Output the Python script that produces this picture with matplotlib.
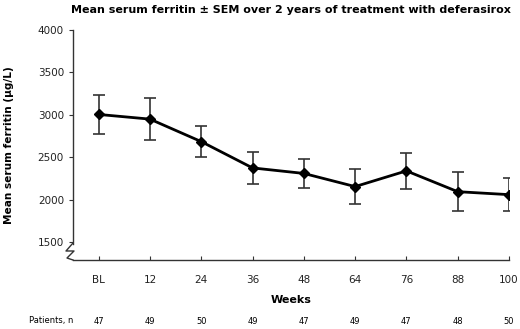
import matplotlib.pyplot as plt
import matplotlib.transforms as mtransforms
import numpy as np

# data
weeks = ["BL", "12", "24", "36", "48", "64", "76", "88", "100"]
ferritin = [3005, 2950, 2685, 2375, 2310, 2155, 2340, 2095, 2060]
sem = [235, 250, 185, 185, 175, 205, 215, 230, 195]
patients = [47, 49, 50, 49, 47, 49, 47, 48, 50]
yticks = [1500, 2000, 2500, 3000, 3500, 4000]

plt.rcParams["font.family"] = ["DejaVu Sans"]

fig = plt.figure(figsize=(5.2, 3.29), dpi=100)
ax = fig.add_axes([73 / 520, 1 - 260 / 329, 436 / 520, 230 / 329])

x = np.arange(len(weeks))
ax.errorbar(x, ferritin, yerr=sem, color="black", lw=2, marker="D", ms=5,
            ecolor="#333333", elinewidth=1.2, capsize=4, capthick=1.2)

ax.set_xlim(-0.5, len(weeks) - 1)
ax.set_ylim(1290, 4000)
ax.set_xticks(x)
ax.set_xticklabels(weeks)
ax.set_yticks(yticks)
ax.tick_params(axis="both", labelsize=7.5, length=3, width=0.8, color="#333333",
               labelcolor="#222222")
ax.tick_params(axis="x", direction="in", pad=11)
ax.spines["top"].set_visible(False)
ax.spines["right"].set_visible(False)
ax.spines["left"].set_bounds(1480, 4000)
for s in ["left", "bottom"]:
    ax.spines[s].set_linewidth(1)
    ax.spines[s].set_color("#333333")

ax.set_xlabel("Weeks", fontsize=8, fontweight="bold", labelpad=7)
ax.set_ylabel("Mean serum ferritin (\u00b5g/L)", fontsize=7.6, fontweight="bold", labelpad=17)
ax.set_title("Mean serum ferritin \u00b1 SEM over 2 years of treatment with deferasirox",
             fontsize=8, fontweight="bold", pad=12)

# axis break
def px(xp, yp):
    return xp / 520, 1 - yp / 329
zz = [px(73, 243), px(66, 251), px(74, 251), px(67, 258), px(73, 260)]
fig.add_artist(plt.Line2D([p[0] for p in zz], [p[1] for p in zz],
                          color="#333333", lw=1, transform=fig.transFigure))

# patients row
trans = mtransforms.blended_transform_factory(ax.transData, fig.transFigure)
fig.text(29 / 520, 1 - 321 / 329, "Patients, n", fontsize=6, va="center", ha="left")
for xi, n in zip(x, patients):
    ax.text(xi, 1 - 321 / 329, str(n), transform=trans, fontsize=6,
            ha="center", va="center")

fig.savefig("out.png", dpi=100)
